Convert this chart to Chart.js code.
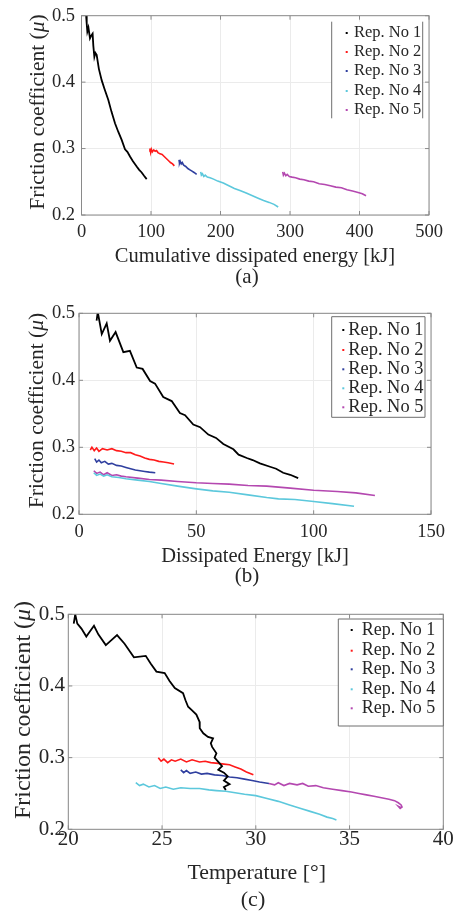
<!DOCTYPE html>
<html>
<head>
<meta charset="utf-8">
<script src="https://cdn.jsdelivr.net/npm/chart.js@4.4.0/dist/chart.umd.min.js"></script>
<style>
  body { margin: 0; background: #fff; width: 455px; height: 911px; position: relative; overflow: hidden; }
  canvas { position: absolute; left: 0; }
</style>
</head>
<body>
<canvas id="chartA" width="455" height="300" style="top:0"></canvas>
<canvas id="chartB" width="455" height="300" style="top:300px"></canvas>
<canvas id="chartC" width="455" height="321" style="top:590px"></canvas>
<script>
// legend / series names and colours
const repLabels = ['Rep. No 1', 'Rep. No 2', 'Rep. No 3', 'Rep. No 4', 'Rep. No 5'];
const repColors = ['#000000', '#ff1a1a', '#2f3f9f', '#5cc8dc', '#b448b0'];

// (a) cumulative dissipated energy [kJ] vs friction coefficient
const cumE1 = [6.5, 7.5, 8.4, 10, 12.2, 14, 16, 17, 18.5, 20, 21.8, 25, 29, 33, 38.6, 43, 48.2, 53, 57.8, 62.6, 66, 69.8, 74, 79.4, 83, 86.6, 90, 93.8];
const cumMu1 = [0.502, 0.488, 0.476, 0.482, 0.466, 0.47, 0.473, 0.455, 0.438, 0.444, 0.441, 0.42, 0.403, 0.39, 0.373, 0.356, 0.338, 0.325, 0.313, 0.299, 0.295, 0.288, 0.281, 0.273, 0.268, 0.264, 0.259, 0.254];
const cumE2 = [97.6, 98.5, 99.5, 100.5, 102, 104, 106, 108, 110, 113, 116, 119, 122, 125, 128, 131, 133.6];
const cumMu2 = [0.296, 0.300, 0.294, 0.299, 0.295, 0.298, 0.296, 0.297, 0.294, 0.292, 0.291, 0.288, 0.285, 0.282, 0.279, 0.277, 0.274];
const cumE3 = [140.3, 141, 142, 143.5, 145, 147, 150, 153, 156, 159, 162, 165.7];
const cumMu3 = [0.283, 0.278, 0.281, 0.277, 0.279, 0.275, 0.273, 0.270, 0.268, 0.266, 0.264, 0.261];
const cumE4 = [171.5, 172.5, 174, 176, 178, 181, 185, 190, 196, 204, 212, 220, 228, 237, 246, 255, 262, 270, 277, 283];
const cumMu4 = [0.265, 0.260, 0.262, 0.258, 0.260, 0.257, 0.256, 0.254, 0.251, 0.248, 0.244, 0.240, 0.237, 0.233, 0.229, 0.225, 0.222, 0.219, 0.216, 0.212];
const cumE5 = [289.5, 290.5, 292, 294, 296, 299, 303, 308, 314, 320, 327, 334, 342, 350, 358, 366, 374, 382, 390, 398, 404, 409.4];
const cumMu5 = [0.265, 0.260, 0.263, 0.259, 0.261, 0.258, 0.257, 0.256, 0.254, 0.253, 0.251, 0.250, 0.247, 0.246, 0.244, 0.242, 0.241, 0.238, 0.236, 0.234, 0.232, 0.229];

// (b) dissipated energy [kJ] per repetition
const energy1 = [7.5, 8.0, 9.7, 11.8, 13.2, 15.6, 18.9, 21.7, 24.6, 27.1, 30.3, 32.4, 35.9, 39.5, 43, 45.2, 48.7, 51.6, 55.1, 58.4, 61.5, 65.8, 68, 71.5, 74, 77.1, 81.4, 84, 87, 90, 93.4];
const mu1 = [0.489, 0.502, 0.469, 0.485, 0.459, 0.472, 0.442, 0.444, 0.419, 0.417, 0.399, 0.395, 0.375, 0.369, 0.351, 0.348, 0.334, 0.330, 0.319, 0.314, 0.305, 0.297, 0.289, 0.284, 0.281, 0.276, 0.271, 0.268, 0.262, 0.259, 0.254];
const energy2 = [4.8, 5.5, 6.5, 7.5, 8.5, 10, 12, 14, 16, 18, 20, 22, 24, 26, 28, 30, 32, 34, 36, 38, 40.5];
const mu2 = [0.296, 0.300, 0.295, 0.299, 0.294, 0.298, 0.296, 0.298, 0.295, 0.294, 0.292, 0.292, 0.289, 0.287, 0.284, 0.282, 0.281, 0.279, 0.278, 0.277, 0.275];
const energy3 = [6.7, 7.5, 8.5, 9.5, 11, 12.5, 14, 16, 18, 20, 22, 24, 26, 28, 30, 32.5];
const mu3 = [0.283, 0.278, 0.281, 0.277, 0.279, 0.275, 0.276, 0.273, 0.272, 0.270, 0.268, 0.266, 0.265, 0.264, 0.263, 0.262];
const energy4 = [6.3, 7.5, 9, 10.5, 12, 14, 17, 20, 25, 30, 35, 42, 50, 57, 64, 72, 80, 85, 92, 100, 108, 117.2];
const mu4 = [0.262, 0.258, 0.260, 0.257, 0.259, 0.256, 0.255, 0.253, 0.251, 0.249, 0.246, 0.242, 0.238, 0.235, 0.233, 0.229, 0.225, 0.223, 0.222, 0.219, 0.216, 0.212];
const energy5 = [6.3, 7.5, 9, 10.5, 12, 14, 16, 18, 20, 25, 30, 35, 42, 50, 57, 64, 72, 80, 90, 100, 110, 118, 126.1];
const mu5 = [0.265, 0.261, 0.263, 0.259, 0.262, 0.258, 0.259, 0.257, 0.256, 0.254, 0.252, 0.251, 0.249, 0.247, 0.246, 0.245, 0.243, 0.242, 0.239, 0.236, 0.234, 0.232, 0.228];

// (c) temperature [deg] per repetition
const temp1 = [20.29, 20.37, 20.48, 20.7, 20.96, 21.15, 21.37, 21.6, 22.0, 22.3, 22.6, 23.0, 23.5, 24.13, 24.4, 24.7, 25.14, 25.4, 25.68, 26.12, 26.25, 26.39, 26.6, 26.83, 27.0, 27.01, 27.2, 27.45, 27.72, 27.6, 27.67, 27.9, 27.8, 28.0, 28.2, 28.0, 28.3, 28.5, 28.3, 28.6, 28.3, 28.4];
const tmu1 = [0.487, 0.500, 0.487, 0.480, 0.469, 0.476, 0.484, 0.472, 0.457, 0.464, 0.471, 0.459, 0.440, 0.442, 0.431, 0.420, 0.418, 0.407, 0.397, 0.390, 0.380, 0.371, 0.366, 0.360, 0.350, 0.341, 0.334, 0.329, 0.327, 0.320, 0.315, 0.306, 0.300, 0.294, 0.288, 0.283, 0.279, 0.274, 0.268, 0.263, 0.259, 0.255];
const temp2 = [24.8, 24.95, 25.1, 25.3, 25.5, 25.7, 26.0, 26.3, 26.6, 27.0, 27.3, 27.6, 28.0, 28.3, 28.6, 28.9, 29.2, 29.5, 29.87];
const tmu2 = [0.300, 0.295, 0.298, 0.293, 0.297, 0.295, 0.298, 0.294, 0.297, 0.294, 0.295, 0.293, 0.292, 0.291, 0.290, 0.287, 0.284, 0.280, 0.276];
const temp3 = [26.0, 26.15, 26.3, 26.5, 26.8, 27.1, 27.4, 27.8, 28.2, 28.6, 29.0, 29.4, 29.8, 30.2, 30.7];
const tmu3 = [0.283, 0.279, 0.282, 0.278, 0.280, 0.277, 0.278, 0.276, 0.275, 0.273, 0.272, 0.270, 0.268, 0.266, 0.264];
const temp4 = [23.6, 23.8, 24.0, 24.3, 24.6, 24.9, 25.2, 25.6, 26.0, 26.5, 27.0, 27.5, 27.9, 28.4, 28.9, 29.4, 30.0, 30.6, 31.2, 31.8, 32.4, 32.9, 33.4, 33.8, 34.1, 34.3];
const tmu4 = [0.265, 0.261, 0.263, 0.259, 0.261, 0.257, 0.259, 0.256, 0.258, 0.257, 0.257, 0.255, 0.254, 0.253, 0.251, 0.249, 0.247, 0.243, 0.239, 0.234, 0.229, 0.225, 0.221, 0.217, 0.215, 0.213];
const temp5 = [30.7, 31.0, 31.2, 31.5, 31.8, 32.2, 32.5, 32.8, 33.2, 33.6, 34.1, 34.6, 35.1, 35.5, 35.9, 36.3, 36.7, 37.1, 37.4, 37.6, 37.75, 37.8, 37.7, 37.6, 37.75];
const tmu5 = [0.264, 0.262, 0.265, 0.261, 0.264, 0.262, 0.264, 0.260, 0.261, 0.258, 0.256, 0.254, 0.252, 0.250, 0.248, 0.246, 0.244, 0.242, 0.240, 0.237, 0.234, 0.231, 0.229, 0.232, 0.230];

// axis ticks
const muTicks = [0.2, 0.3, 0.4, 0.5];
const cumTicks = [0, 100, 200, 300, 400, 500];
const energyTicks = [0, 50, 100, 150];
const tempTicks = [20, 25, 30, 35, 40];

const serif = "'Liberation Serif', 'Times New Roman', serif";
const textColor = '#262626';
const boxColor = '#8a8a8a';

// layout of each panel (canvas-local pixels)
const panels = {
  chartA: {
    area: { left: 81.5, right: 429, top: 15.7, bottom: 215 }, h: 300,
    tickFont: 18.5, yPad: 6.5, xPad: 7.5,
    yTitle: { x: 38.5, y: 112, size: 21.5 },
    xTitle: { text: 'Cumulative dissipated energy [kJ]', x: 255, y: 257, size: 20.5 },
    caption: { text: '(a)', x: 247, y: 277, size: 21 },
    legend: { x1: 331.7, x2: 422.7, y1: 21.7, y2: 118.3, full: false, rows: [33, 52, 71, 91, 110], mx: 346.7, tx: 354, size: 16.5 }
  },
  chartB: {
    area: { left: 79, right: 431, top: 13.3, bottom: 214.3 }, h: 300,
    tickFont: 18.5, yPad: 4, xPad: 8.4,
    yTitle: { x: 37, y: 110.5, size: 21.5 },
    xTitle: { text: 'Dissipated Energy [kJ]', x: 255, y: 256.7, size: 20.5 },
    caption: { text: '(b)', x: 247, y: 276.7, size: 21 },
    legend: { x1: 331.7, x2: 425, y1: 16.7, y2: 117.3, full: true, rows: [30, 50, 69.3, 88.3, 107.3], mx: 343.3, tx: 348.3, size: 18.4 }
  },
  chartC: {
    area: { left: 68.3, right: 443.3, top: 24.3, bottom: 239.3 }, h: 321,
    tickFont: 21, yPad: 3.3, xPad: 0,
    yTitle: { x: 24, y: 120, size: 24 },
    xTitle: { text: 'Temperature [°]', x: 256.7, y: 283.3, size: 21.8 },
    caption: { text: '(c)', x: 253, y: 310, size: 22 },
    legend: { x1: 338.3, x2: 443.3, y1: 29, y2: 136, full: true, rows: [40, 60.7, 79.3, 99.3, 118.3], mx: 351.7, tx: 361.7, size: 18 }
  }
};

const decor = {
  id: 'decor',
  afterDraw(chart) {
    const p = panels[chart.canvas.id];
    const ctx = chart.ctx;
    const a = chart.chartArea;
    const xs = chart.scales.x, ys = chart.scales.y;
    ctx.save();
    // axes box + inward ticks on all sides
    ctx.strokeStyle = boxColor;
    ctx.lineWidth = 1;
    ctx.strokeRect(a.left, a.top, a.right - a.left, a.bottom - a.top);
    ctx.beginPath();
    xs.ticks.forEach(t => {
      const px = xs.getPixelForValue(t.value);
      ctx.moveTo(px, a.bottom); ctx.lineTo(px, a.bottom - 4);
      ctx.moveTo(px, a.top); ctx.lineTo(px, a.top + 4);
    });
    ys.ticks.forEach(t => {
      const py = ys.getPixelForValue(t.value);
      ctx.moveTo(a.left, py); ctx.lineTo(a.left + 4, py);
      ctx.moveTo(a.right, py); ctx.lineTo(a.right - 4, py);
    });
    ctx.stroke();

    ctx.fillStyle = textColor;
    // y title with italic mu
    const yt = p.yTitle;
    const normal = yt.size + 'px ' + serif;
    const italic = 'italic ' + yt.size + 'px ' + serif;
    const parts = [['Friction coefficient (', normal], ['\u03bc', italic], [')', normal]];
    let total = 0;
    parts.forEach(pt => { ctx.font = pt[1]; total += ctx.measureText(pt[0]).width; });
    ctx.translate(yt.x, yt.y);
    ctx.rotate(-Math.PI / 2);
    ctx.textBaseline = 'middle';
    ctx.textAlign = 'left';
    let cx = -total / 2;
    parts.forEach(pt => { ctx.font = pt[1]; ctx.fillText(pt[0], cx, 0); cx += ctx.measureText(pt[0]).width; });
    ctx.setTransform(1, 0, 0, 1, 0, 0);

    // x title and caption
    ctx.textAlign = 'center';
    ctx.textBaseline = 'middle';
    ctx.font = p.xTitle.size + 'px ' + serif;
    ctx.fillText(p.xTitle.text, p.xTitle.x, p.xTitle.y);
    ctx.font = p.caption.size + 'px ' + serif;
    ctx.fillText(p.caption.text, p.caption.x, p.caption.y);

    // legend
    const lg = p.legend;
    ctx.fillStyle = '#ffffff';
    ctx.fillRect(lg.x1, lg.y1, lg.x2 - lg.x1, lg.y2 - lg.y1);
    ctx.strokeStyle = '#6e6e6e';
    ctx.beginPath();
    if (lg.full) {
      ctx.rect(lg.x1, lg.y1, lg.x2 - lg.x1, lg.y2 - lg.y1);
    } else {
      ctx.moveTo(lg.x1, lg.y1); ctx.lineTo(lg.x1, lg.y2);
      ctx.moveTo(lg.x2, lg.y1); ctx.lineTo(lg.x2, lg.y2);
    }
    ctx.stroke();
    ctx.textAlign = 'left';
    ctx.font = lg.size + 'px ' + serif;
    repLabels.forEach((lab, i) => {
      ctx.fillStyle = repColors[i];
      ctx.fillRect(lg.mx - 1, lg.rows[i] - 1, 2, 2);
      ctx.fillStyle = textColor;
      ctx.fillText(lab, lg.tx, lg.rows[i]);
    });
    ctx.restore();
  }
};

function makeChart(id, series, xTicks) {
  const p = panels[id];
  const datasets = series.map((s, i) => ({
    label: repLabels[i],
    data: s[0].map((x, j) => ({ x: x, y: s[1][j] })),
    borderColor: repColors[i],
    borderWidth: i === 0 ? 1.8 : 1.6,
    showLine: true,
    pointRadius: 0,
    tension: 0
  }));
  return new Chart(document.getElementById(id).getContext('2d'), {
    type: 'scatter',
    data: { datasets: datasets },
    options: {
      responsive: false,
      animation: false,
      devicePixelRatio: 1,
      layout: { padding: { left: 0, right: 455 - p.area.right, top: p.area.top, bottom: 0 } },
      plugins: { legend: { display: false }, tooltip: { enabled: false } },
      scales: {
        x: {
          type: 'linear',
          min: xTicks[0],
          max: xTicks[xTicks.length - 1],
          afterBuildTicks: s => { s.ticks = xTicks.map(v => ({ value: v })); },
          ticks: { color: textColor, font: { family: serif, size: p.tickFont, lineHeight: 1 }, padding: p.xPad, maxRotation: 0 },
          grid: { color: '#ebebeb', drawTicks: false },
          border: { display: false },
          afterFit: s => { s.height = p.h - p.area.bottom; s.paddingLeft = 0; s.paddingRight = 0; }
        },
        y: {
          type: 'linear',
          min: muTicks[0],
          max: muTicks[muTicks.length - 1],
          afterBuildTicks: s => { s.ticks = muTicks.map(v => ({ value: v })); },
          ticks: { color: textColor, font: { family: serif, size: p.tickFont, lineHeight: 1 }, padding: p.yPad, callback: v => v.toFixed(1) },
          grid: { color: '#ebebeb', drawTicks: false },
          border: { display: false },
          afterFit: s => { s.width = p.area.left; s.paddingTop = 0; s.paddingBottom = 0; }
        }
      }
    },
    plugins: [decor]
  });
}

makeChart('chartA', [[cumE1, cumMu1], [cumE2, cumMu2], [cumE3, cumMu3], [cumE4, cumMu4], [cumE5, cumMu5]], cumTicks);
makeChart('chartB', [[energy1, mu1], [energy2, mu2], [energy3, mu3], [energy4, mu4], [energy5, mu5]], energyTicks);
makeChart('chartC', [[temp1, tmu1], [temp2, tmu2], [temp3, tmu3], [temp4, tmu4], [temp5, tmu5]], tempTicks);
</script>
</body>
</html>
